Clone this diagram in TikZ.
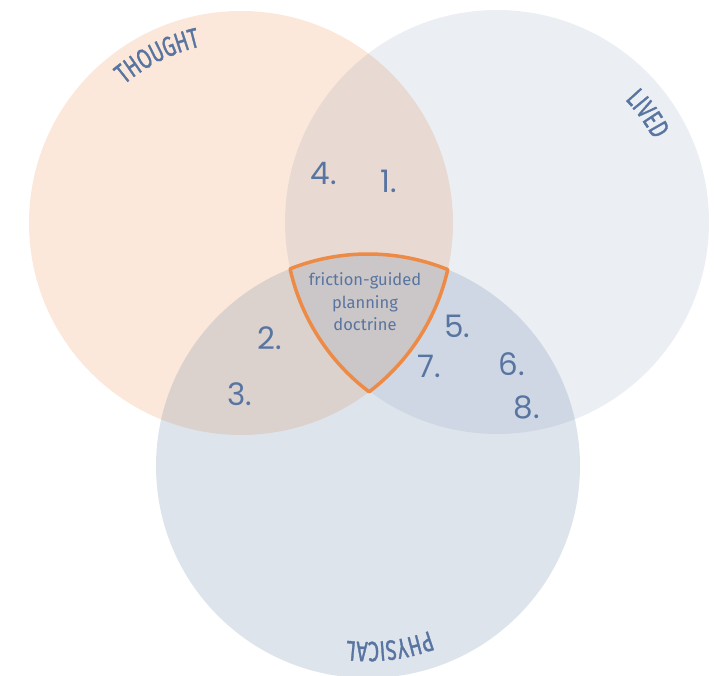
\documentclass[tikz,border=0pt]{standalone}
\usepackage{fontspec}
\setmainfont{Fira Sans}
\newfontfamily\numfont{Poppins}
\newfontfamily\labelfont[FakeStretch=0.7, FakeBold=1.2, LetterSpace=6]{Fira Sans}
\usetikzlibrary{decorations.text}
\definecolor{thoughtorange}{HTML}{ED8A45}
\definecolor{slate}{HTML}{5B7AA0}
\definecolor{inkblue}{HTML}{5874A0}
\tikzset{
  num/.style={inkblue, font=\numfont\fontsize{31}{31}\selectfont},
  ringlabel/.style={decorate, decoration={text along path, text align=center,
    text={|\labelfont\fontsize{28}{28}\selectfont\color{inkblue}|#1}}}
}

\begin{document}
\begin{tikzpicture}[x=1pt, y=1pt]
  \useasboundingbox (0,0) rectangle (716,676);
  % centres of the three circles
  \coordinate (thought) at (241,453);
  \coordinate (lived) at (497,454);
  \coordinate (physical) at (368,210);
  % circles
  \fill[thoughtorange, fill opacity=0.2] (thought) circle[radius=212];
  \fill[slate, fill opacity=0.12] (lived) circle[radius=212];
  \fill[slate, fill opacity=0.2] (physical) circle[radius=212];
  % triple overlap
  \draw[thoughtorange, line width=3.5pt, line join=round]
    ([shift={(111.5:212)}]physical) arc[start angle=111.5, end angle=67.9, radius=212]
    arc[start angle=-12.7, end angle=-52.8, radius=212]
    arc[start angle=232.9, end angle=192.8, radius=212] -- cycle;
  \node[inkblue, font=\fontsize{16.5}{22.5}\selectfont, align=center] (core) at (365,374)
    {friction-guided\\planning\\doctrine};
  % circle names
  \path[ringlabel=THOUGHT] ([shift={(140:181)}]thought) arc[start angle=140, end angle=93, radius=181];
  \path[ringlabel=LIVED] ([shift={(55:177)}]lived) arc[start angle=55, end angle=16.4, radius=177];
  \path[ringlabel=PHYSICAL] ([shift={(-58:176)}]physical) arc[start angle=-58, end angle=-108.4, radius=176];
  % numbered items
  \foreach \n/\x/\y in {1/389/495, 2/270/338, 3/240/282, 4/324/502,
                        5/457/350, 6/512/312, 7/429/310, 8/527/269}{
    \node[num] (n\n) at (\x,\y) {\n.};
  }
\end{tikzpicture}
\end{document}
